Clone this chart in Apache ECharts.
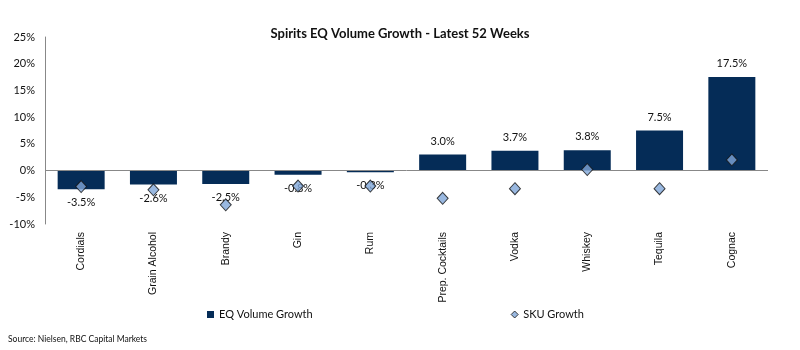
<!DOCTYPE html>
<html>
<head>
<meta charset="utf-8">
<script src="https://cdn.jsdelivr.net/npm/echarts@6/dist/echarts.min.js"></script>
<style>
  html, body { margin: 0; padding: 0; background: #fff; }
  #container { width: 800px; height: 350px; }
</style>
</head>
<body>
<div id="container"></div>
<script>
var categories = ['Cordials', 'Grain Alcohol', 'Brandy', 'Gin', 'Rum', 'Prep. Cocktails', 'Vodka', 'Whiskey', 'Tequila', 'Cognac'];
var volumeGrowth = [-3.5, -2.6, -2.5, -0.8, -0.3, 3.0, 3.7, 3.8, 7.5, 17.5];
var skuGrowth = [-3.0, -3.6, -6.4, -2.9, -2.9, -5.2, -3.4, 0.2, -3.4, 2.0];
var yTicks = { min: -10, max: 25, step: 5 };

var labelFont = 'Lato, "Open Sans", sans-serif';

var barData = volumeGrowth.map(function (v) {
    return {
        value: v,
        label: { position: v < 0 ? 'bottom' : 'top' }
    };
});

var myChart = echarts.init(document.getElementById('container'), null, { renderer: 'canvas' });

var option = {
    backgroundColor: '#fff',
    animation: false,
    title: {
        text: 'Spirits EQ Volume Growth - Latest 52 Weeks',
        left: 'center',
        top: 22,
        textStyle: { fontFamily: labelFont, fontSize: 13, fontWeight: 'bold', color: '#111' }
    },
    grid: { left: 45, right: 32, top: 37, bottom: 126 },
    legend: {
        top: 304,
        left: 202,
        itemGap: 198,
        itemWidth: 7,
        itemHeight: 7,
        textStyle: { fontFamily: labelFont, fontSize: 11, color: '#111' },
        data: [
            { name: 'EQ Volume Growth', icon: 'rect' },
            { name: 'SKU Growth', icon: 'diamond', itemStyle: { color: '#7fa6d8', borderColor: '#111', borderWidth: 1 } }
        ]
    },
    xAxis: {
        type: 'category',
        data: categories,
        axisLine: { show: false, onZero: false },
        axisTick: { show: false },
        axisLabel: {
            rotate: 90,
            margin: 8,
            interval: 0,
            fontFamily: '"Liberation Sans", Arial, sans-serif',
            fontSize: 10.5,
            color: '#111'
        }
    },
    yAxis: {
        type: 'value',
        min: yTicks.min,
        max: yTicks.max,
        interval: yTicks.step,
        axisLine: { show: true, lineStyle: { color: '#888' } },
        axisTick: { show: false },
        splitLine: { show: false },
        axisLabel: {
            margin: 10,
            fontFamily: labelFont,
            fontSize: 11,
            color: '#111',
            formatter: '{value}%'
        }
    },
    graphic: [{
        type: 'text',
        left: 8,
        top: 335,
        style: { text: 'Source: Nielsen, RBC Capital Markets', fontFamily: labelFont, fontSize: 8.5, fill: '#111' }
    }],
    series: [
        {
            name: 'EQ Volume Growth',
            type: 'bar',
            barWidth: '65%',
            itemStyle: { color: '#052c57' },
            label: {
                show: true,
                distance: 8,
                fontFamily: labelFont,
                fontSize: 11,
                color: '#111',
                formatter: function (p) { return p.value.toFixed(1) + '%'; }
            },
            data: barData,
            markLine: {
                silent: true,
                symbol: 'none',
                label: { show: false },
                lineStyle: { color: '#888', type: 'solid', width: 1 },
                data: [{ yAxis: 0 }]
            }
        },
        {
            name: 'SKU Growth',
            type: 'scatter',
            symbol: 'diamond',
            symbolSize: [11, 12],
            itemStyle: { color: '#7fa6d8', borderColor: '#111', borderWidth: 1 },
            z: 5,
            data: skuGrowth
        }
    ]
};

myChart.setOption(option);
</script>
</body>
</html>
